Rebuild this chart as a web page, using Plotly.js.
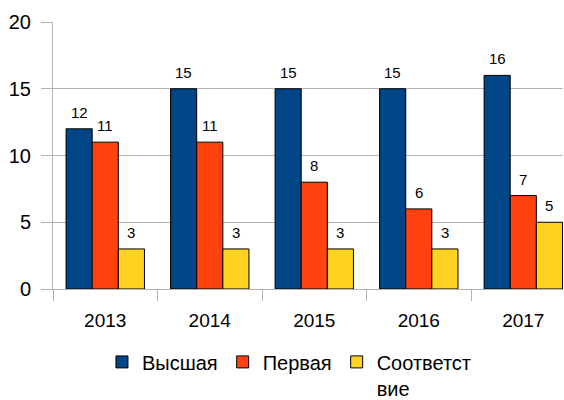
<!DOCTYPE html>
<html>
<head>
<meta charset="utf-8">
<script src="https://cdn.plot.ly/plotly-3.0.1.min.js"></script>
<style>html,body{margin:0;padding:0;background:#fff;}</style>
</head>
<body>
<div id="chart" style="width:564px;height:400px;"></div>
<script>
const years = ['2013', '2014', '2015', '2016', '2017'];
const vysshaya = [12, 15, 15, 15, 16];
const pervaya = [11, 11, 8, 6, 7];
const sootvetstvie = [3, 3, 3, 3, 5];
const seriesNames = ['Высшая', 'Первая', 'Соответст<br>вие'];
const yTicks = [0, 5, 10, 15, 20];

const colors = ['#004586', '#ff420e', '#ffd320'];
const font = '"Liberation Sans", Arial, sans-serif';
const series = [vysshaya, pervaya, sootvetstvie];

const traces = series.map((vals, i) => ({
  type: 'bar',
  name: seriesNames[i],
  x: years,
  y: vals,
  marker: {color: colors[i], line: {color: '#000', width: 1}},
  hoverinfo: 'none'
}));

// value labels above bars, offset to each bar's slot within the group
const barPx = 26.1;
const annotations = [];
series.forEach((vals, i) => {
  vals.forEach((v, j) => {
    annotations.push({
      x: j, y: v, xref: 'x', yref: 'y',
      text: String(v), showarrow: false,
      xanchor: 'center', yanchor: 'bottom',
      xshift: (i - 1) * barPx, yshift: 6,
      font: {family: font, size: 15, color: '#000'}
    });
  });
});

const layout = {
  width: 564,
  height: 400,
  margin: {l: 53, r: 1, t: 22, b: 111, autoexpand: false},
  paper_bgcolor: '#fff',
  plot_bgcolor: '#fff',
  barmode: 'group',
  bargap: 0.25,
  bargroupgap: 0,
  font: {family: font, size: 19, color: '#000'},
  showlegend: true,
  annotations: annotations,
  legend: {
    orientation: 'h',
    x: 0.096,
    xanchor: 'left',
    y: -0.2,
    yanchor: 'top',
    valign: 'top',
    font: {family: font, size: 20, color: '#000'},
    itemclick: false
  },
  xaxis: {
    type: 'category',
    range: [-0.5, 4.38],
    tickson: 'boundaries',
    ticks: 'outside',
    ticklen: 11,
    tickcolor: '#b3b3b3',
    ticklabelstandoff: 14,
    showline: true,
    linecolor: '#b3b3b3',
    showgrid: false,
    tickfont: {family: font, size: 19, color: '#000'}
  },
  yaxis: {
    range: [0, 20],
    tickvals: yTicks,
    ticks: 'outside',
    ticklen: 11,
    tickcolor: '#b3b3b3',
    ticklabelstandoff: 6,
    showline: true,
    linecolor: '#b3b3b3',
    showgrid: true,
    gridcolor: '#b3b3b3',
    zeroline: false,
    tickfont: {family: font, size: 20, color: '#000'}
  }
};

Plotly.newPlot('chart', traces, layout, {displayModeBar: false, staticPlot: true});
</script>
</body>
</html>
